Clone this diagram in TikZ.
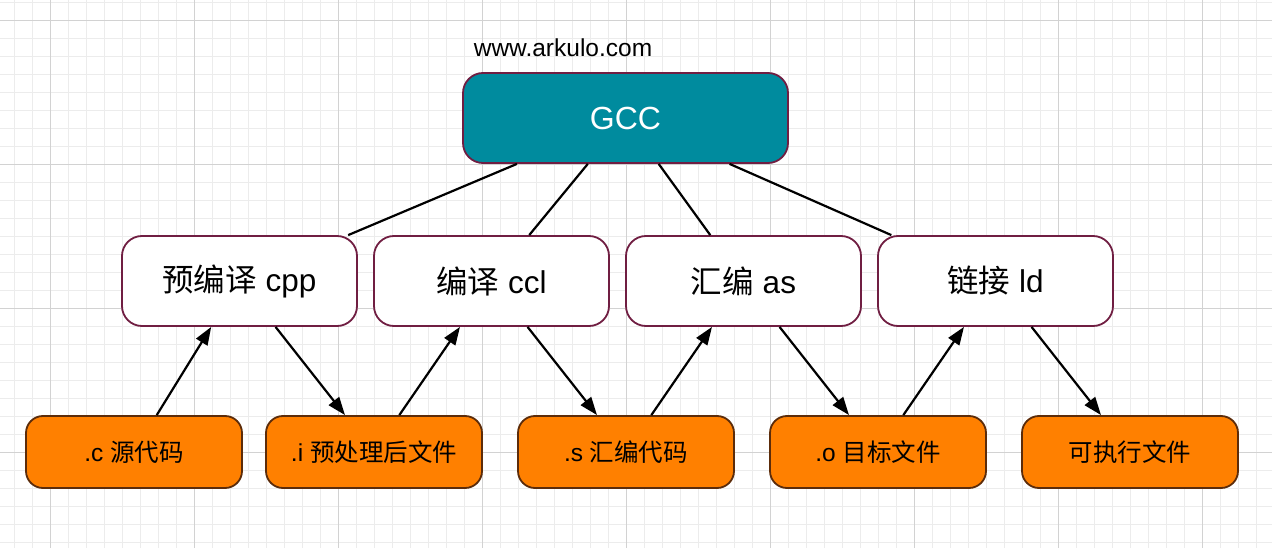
\documentclass[tikz,border=0pt]{standalone}
\usepackage{fontspec}
\setmainfont{Liberation Sans}
\newfontfamily\cjk{Noto Sans CJK SC}
\usetikzlibrary{arrows.meta}
\definecolor{gridMinor}{RGB}{236,236,236}
\definecolor{gridMajor}{RGB}{210,210,210}
\definecolor{gccTeal}{RGB}{0,139,158}
\definecolor{stageLine}{RGB}{112,30,66}
\definecolor{fileOrange}{RGB}{255,128,0}
\definecolor{fileLine}{RGB}{92,44,10}

\begin{document}
\begin{tikzpicture}[x=1pt,y=-1pt,
  gccbox/.style={draw=stageLine,line width=1.8pt,fill=gccTeal,text=white,rounded corners=20pt,
    minimum width=325pt,minimum height=90pt,inner sep=0pt,font=\fontsize{32}{38}\selectfont},
  stagebox/.style={draw=stageLine,line width=1.8pt,fill=white,rounded corners=20pt,
    minimum width=235pt,minimum height=90pt,inner sep=0pt,font=\fontsize{31.5}{38}\selectfont},
  filebox/.style={draw=fileLine,line width=1.8pt,fill=fileOrange,rounded corners=17pt,
    minimum width=216pt,minimum height=72pt,inner sep=0pt,font=\fontsize{24.5}{30}\selectfont},
  gcclink/.style={draw=black,line width=2.2pt},
  flowarrow/.style={draw=black,line width=2.2pt,-{Triangle[length=18pt,width=13pt]}}]
\useasboundingbox (0,0) rectangle (1272,548);

% Background grid
\fill[white] (0,0) rectangle (1272,548);
\foreach \k in {0,...,69}
  \draw[gridMinor,line width=0.9pt] ({14.3+18*\k},0) -- ({14.3+18*\k},548);
\foreach \k in {0,...,30}
  \draw[gridMinor,line width=0.9pt] (0,{2.3+18*\k}) -- (1272,{2.3+18*\k});
\foreach \k in {0,...,8}
  \draw[gridMajor,line width=0.9pt] ({50.3+144*\k},0) -- ({50.3+144*\k},548);
\foreach \k in {0,...,3}
  \draw[gridMajor,line width=0.9pt] (0,{20.3+144*\k}) -- (1272,{20.3+144*\k});

% Top
\node[font=\fontsize{24.5}{30}\selectfont] (site) at (563,48) {www.arkulo.com};
\node[gccbox] (gcc) at (625.5,118) {GCC};

% Stages
\node[stagebox] (pre) at (239.5,281) {{\cjk 预编译} cpp};
\node[stagebox] (comp) at (491.5,281) {{\cjk 编译} ccl};
\node[stagebox] (asm) at (743.5,281) {{\cjk 汇编} as};
\node[stagebox] (link) at (995.5,281) {{\cjk 链接} ld};

% Files
\node[filebox] (src) at (134,452) {.c {\cjk 源代码}};
\node[filebox] (prei) at (374,452) {.i {\cjk 预处理后文件}};
\node[filebox] (asms) at (626,452) {.s {\cjk 汇编代码}};
\node[filebox] (obj) at (878,452) {.o {\cjk 目标文件}};
\node[filebox] (exe) at (1130,452) {{\cjk 可执行文件}};

% GCC to stages
\draw[gcclink] (gcc) -- (pre);
\draw[gcclink] (gcc) -- (comp);
\draw[gcclink] (gcc) -- (asm);
\draw[gcclink] (gcc) -- (link);

% Flow
\draw[flowarrow] (src) -- (pre);
\draw[flowarrow] (pre) -- (prei);
\draw[flowarrow] (prei) -- (comp);
\draw[flowarrow] (comp) -- (asms);
\draw[flowarrow] (asms) -- (asm);
\draw[flowarrow] (asm) -- (obj);
\draw[flowarrow] (obj) -- (link);
\draw[flowarrow] (link) -- (exe);
\end{tikzpicture}
\end{document}
